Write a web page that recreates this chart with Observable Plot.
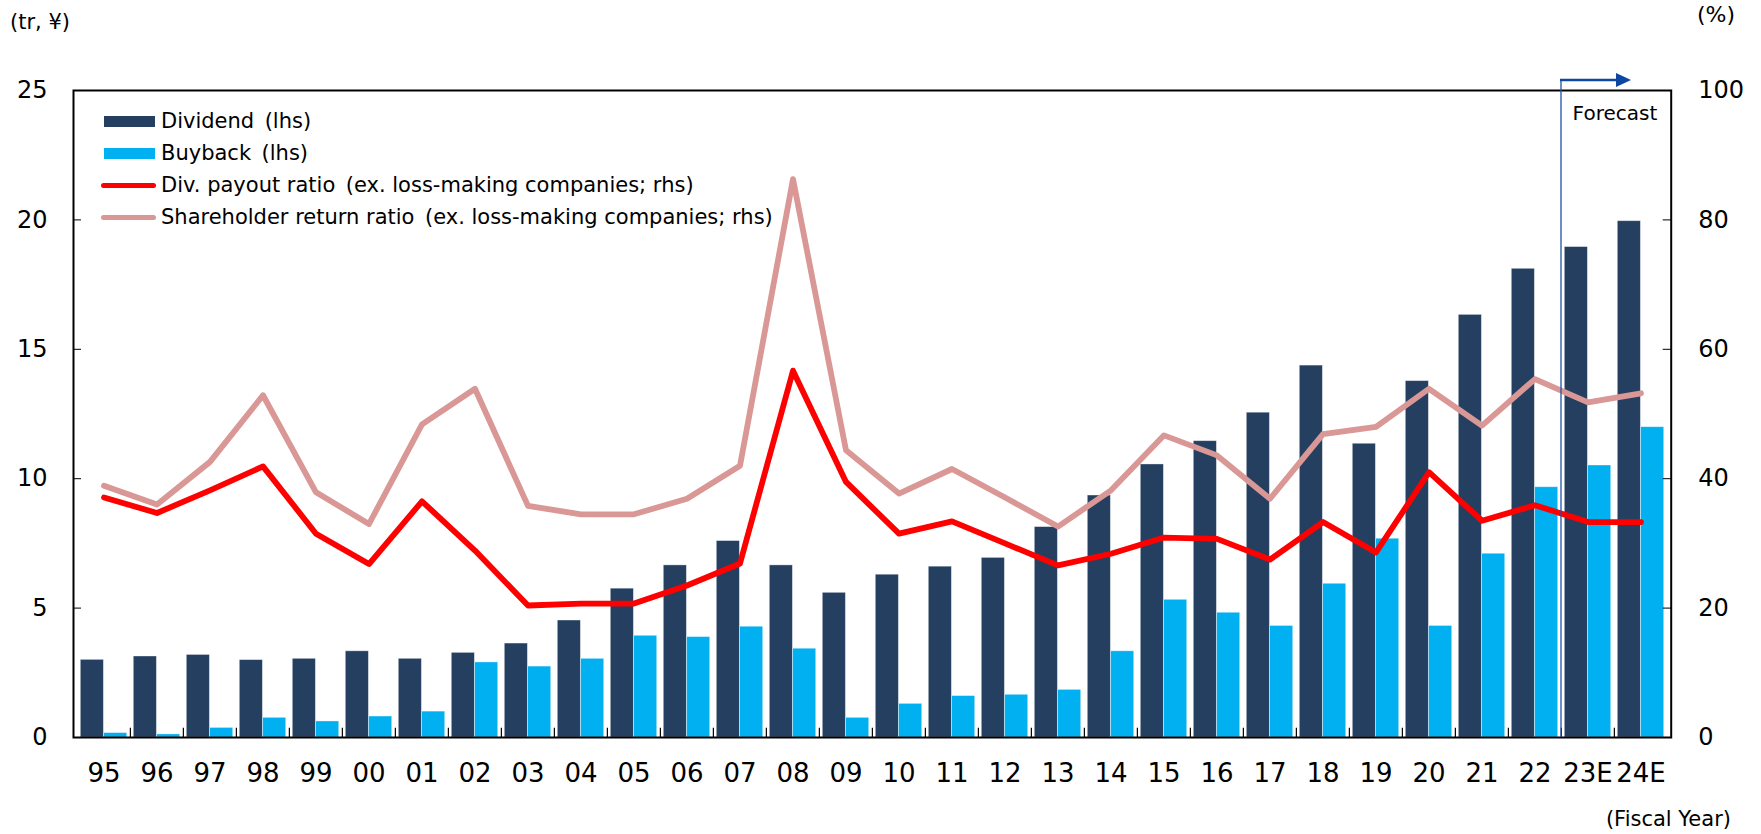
<!DOCTYPE html>
<html>
<head>
<meta charset="utf-8">
<script src="https://cdn.jsdelivr.net/npm/d3@7"></script>
<script src="https://cdn.jsdelivr.net/npm/@observablehq/plot@0.6"></script>
<style>
  html, body { margin: 0; padding: 0; background: #fff; }
  #wrap { position: relative; width: 1761px; height: 834px; font-family: "DejaVu Sans", Verdana, sans-serif; color: #000; }
  .note { position: absolute; white-space: nowrap; line-height: 1; }
  .legend { position: absolute; left: 100px; top: 105px; }
  .row { position: relative; height: 32px; width: 720px; }
  .sw { position: absolute; }
  .lab { position: absolute; left: 61px; top: 50%; transform: translateY(-50%); font-size: 21px; white-space: nowrap; line-height: 1; }
</style>
</head>
<body>
<div id="wrap"></div>
<script>
const years = ["95","96","97","98","99","00","01","02","03","04","05","06","07","08","09","10","11","12","13","14","15","16","17","18","19","20","21","22","23E","24E"];
const dividend = [3.0, 3.13, 3.19, 2.99, 3.04, 3.33, 3.04, 3.27, 3.63, 4.52, 5.75, 6.65, 7.59, 6.65, 5.59, 6.29, 6.60, 6.94, 8.13, 9.35, 10.55, 11.45, 12.55, 14.37, 11.35, 13.77, 16.33, 18.11, 18.95, 19.95];
const buyback = [0.17, 0.12, 0.37, 0.76, 0.62, 0.81, 1.0, 2.9, 2.74, 3.04, 3.93, 3.88, 4.28, 3.43, 0.76, 1.30, 1.60, 1.65, 1.84, 3.33, 5.32, 4.82, 4.31, 5.94, 7.68, 4.31, 7.10, 9.67, 10.51, 11.99];
const payoutRatio = [37.1, 34.7, 38.2, 41.9, 31.5, 26.8, 36.5, 28.9, 20.4, 20.7, 20.7, 23.5, 26.9, 56.7, 39.5, 31.5, 33.4, 30.0, 26.6, 28.4, 30.9, 30.7, 27.5, 33.3, 28.6, 41.0, 33.5, 35.9, 33.3, 33.3];
const returnRatio = [38.9, 36.0, 42.6, 52.9, 37.9, 33.0, 48.4, 53.9, 35.8, 34.5, 34.5, 36.9, 42.0, 86.3, 44.4, 37.7, 41.5, 37.1, 32.6, 38.2, 46.7, 43.6, 36.9, 46.9, 48.0, 53.9, 48.2, 55.4, 51.8, 53.2];
const leftTicks = [0, 5, 10, 15, 20, 25];
const rightTicks = [0, 20, 40, 60, 80, 100];
const forecastStart = "23E";
const seriesNames = ["Dividend\u2002(lhs)", "Buyback\u2002(lhs)", "Div. payout ratio\u2002(ex. loss-making companies; rhs)", "Shareholder return ratio\u2002(ex. loss-making companies; rhs)"];
const colors = { dividend: "#243F60", buyback: "#00B0F0", payout: "#FF0000", ret: "#D99795", forecast: "#0D47A1" };

const rows = years.map((y, i) => ({ year: y, dividend: dividend[i], buyback: buyback[i], payout: payoutRatio[i], ret: returnRatio[i] }));
const ratioScale = 100 / 25; // right axis (%) -> left axis units

const W = 1761, H = 834;
const mL = 73, mR = 90.3, mT = 90, mB = 97;
const bw = (W - mL - mR) / years.length;
const pad = 3.3;

const plot = Plot.plot({
  width: W, height: H,
  marginLeft: mL, marginRight: mR, marginTop: mT, marginBottom: mB,
  style: { fontFamily: "DejaVu Sans, Verdana, sans-serif", background: "white", overflow: "visible", color: "#000" },
  x: { type: "band", domain: years, padding: 0, label: null },
  y: { domain: [0, 25], label: null },
  marks: [
    Plot.barY(rows, { x: "year", y: "dividend", fill: colors.dividend, insetLeft: pad, insetRight: bw / 2, stroke: "#ffffff", strokeOpacity: 0.45, strokeWidth: 0.8 }),
    Plot.barY(rows, { x: "year", y: "buyback", fill: colors.buyback, insetLeft: bw / 2, insetRight: pad, stroke: "#ffffff", strokeOpacity: 0.45, strokeWidth: 0.8 }),
    Plot.ruleX(years.slice(1), { x: d => d, dx: -bw / 2, y1: 0, y2: 0.36, stroke: "#000", strokeWidth: 1.2 }),
    Plot.line(rows, { x: "year", y: d => d.ret / ratioScale, stroke: colors.ret, strokeWidth: 5.8, strokeLinejoin: "round", strokeLinecap: "round" }),
    Plot.line(rows, { x: "year", y: d => d.payout / ratioScale, stroke: colors.payout, strokeWidth: 5.8, strokeLinejoin: "round", strokeLinecap: "round" }),
    Plot.axisY(leftTicks, { anchor: "left", tickSize: -8, tickPadding: 34, fontSize: 24, label: null, stroke: "#000" }),
    Plot.axisY(rightTicks.map(v => v / ratioScale), { anchor: "right", tickSize: -9, tickPadding: 36, fontSize: 24, label: null, tickFormat: d => Math.round(d * ratioScale) }),
    Plot.axisX({ tickSize: 0, tickPadding: 26, fontSize: 26, label: null }),
    Plot.frame({ stroke: "#000", strokeWidth: 2 })
  ]
});

const wrap = document.getElementById("wrap");
wrap.appendChild(plot);

// Forecast marker, positioned via the plot's own scales
const xs = plot.scale("x"), ys = plot.scale("y");
const fx = xs.apply(forecastStart);
const yBottom = ys.apply(0), yTop = ys.apply(25) - 10;
const svg = d3.select(plot);
const g = svg.append("g");
g.append("line").attr("x1", fx).attr("x2", fx).attr("y1", yTop).attr("y2", yBottom).attr("stroke", "#2050A8").attr("stroke-width", 1.3);
g.append("line").attr("x1", fx - 1).attr("x2", fx + 56).attr("y1", yTop).attr("y2", yTop).attr("stroke", colors.forecast).attr("stroke-width", 2.5);
g.append("path").attr("d", `M${fx + 55},${yTop - 7}L${fx + 70},${yTop}L${fx + 55},${yTop + 7}Z`).attr("fill", colors.forecast);
g.append("text").attr("x", xs.apply("24E") + bw - 10).attr("y", ys.apply(25) + 30).attr("text-anchor", "end")
  .attr("font-size", 20).attr("font-family", "DejaVu Sans, Verdana, sans-serif").attr("fill", "#000").text("Forecast");

// Axis unit notes
function note(text, left, top, size, anchorRight) {
  const d = document.createElement("div");
  d.className = "note";
  d.textContent = text;
  d.style.fontSize = size + "px";
  d.style.top = top + "px";
  if (anchorRight) d.style.right = left + "px"; else d.style.left = left + "px";
  wrap.appendChild(d);
}
note("(tr, ¥)", 10, 12, 21, false);
note("(%)", 1697, 4, 22, false);
note("(Fiscal Year)", 1761 - 1731, 809, 21, true);

// Legend
const legend = document.createElement("div");
legend.className = "legend";
const swatches = [
  { kind: "bar", color: colors.dividend },
  { kind: "bar", color: colors.buyback },
  { kind: "line", color: colors.payout },
  { kind: "line", color: colors.ret }
];
seriesNames.forEach((name, i) => {
  const r = document.createElement("div");
  r.className = "row";
  const s = document.createElement("div");
  s.className = "sw";
  const sw = swatches[i];
  if (sw.kind === "bar") {
    Object.assign(s.style, { left: "4px", width: "51px", height: "11px", top: "10.5px", background: sw.color });
  } else {
    Object.assign(s.style, { left: "1px", width: "55px", height: "5px", top: "13.5px", background: sw.color, borderRadius: "3px" });
  }
  const t = document.createElement("div");
  t.className = "lab";
  t.textContent = name;
  r.appendChild(s);
  r.appendChild(t);
  legend.appendChild(r);
});
wrap.appendChild(legend);
</script>
</body>
</html>
